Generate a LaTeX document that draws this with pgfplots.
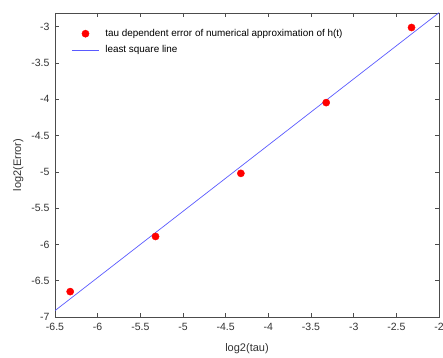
\documentclass[border=0pt]{standalone}
\usepackage{pgfplots}
\pgfplotsset{compat=1.18}
\usepackage{fontspec}
\setmainfont{Liberation Sans}
\definecolor{lsqblue}{RGB}{90,90,255}
\begin{document}
\begin{tikzpicture}
\begin{axis}[
  name=ax,
  at={(0pt,0pt)}, anchor=south west,
  scale only axis,
  width=384pt, height=304pt,
  xmin=-6.5, xmax=-2, ymin=-7, ymax=-2.81,
  xtick={-6.5,-6,...,-2}, ytick={-7,-6.5,...,-3},
  tick align=inside, major tick length=4pt,
  tick style={black!70, line width=0.6pt},
  axis line style={black!70, line width=0.6pt},
  /pgf/number format/assume math mode=true,
  ticklabel style={font=\fontsize{10.5}{12}\selectfont, text=black!80},
  xticklabel style={yshift=-3pt},
  yticklabel style={xshift=-2pt},
  xlabel={log2(tau)}, ylabel={log2(Error)},
  label style={font=\fontsize{11}{13}\selectfont, text=black!80},
  xlabel shift=6pt, ylabel shift=1pt,
  legend style={at={(0.035,0.96)}, anchor=north west, draw=none, fill=none,
    font=\fontsize{9.9}{11}\selectfont, row sep=3.5pt,
    /tikz/every odd column/.append style={column sep=4pt}},
  legend cell align=left,
  legend image code/.code={\draw[mark repeat=2,mark phase=2,#1] plot coordinates {(0pt,0pt) (13.5pt,0pt) (27pt,0pt)};},
]
\addplot[only marks, mark=*, mark size=3.6pt, color=red] coordinates {
  (-6.3219,-6.65) (-5.3219,-5.89) (-4.3219,-5.02) (-3.3219,-4.045) (-2.3219,-3.01)
};
\addlegendentry{tau dependent error of numerical approximation of h(t)}
\addplot[lsqblue, line width=0.7pt] coordinates {(-6.5,-6.912) (-2,-2.806)};
\addlegendentry{least square line}
\end{axis}
\pgfresetboundingbox
\clip (-55pt,-40pt) rectangle (388pt,317pt);
\useasboundingbox (-55pt,-40pt) rectangle (388pt,317pt);
\end{tikzpicture}
\end{document}
